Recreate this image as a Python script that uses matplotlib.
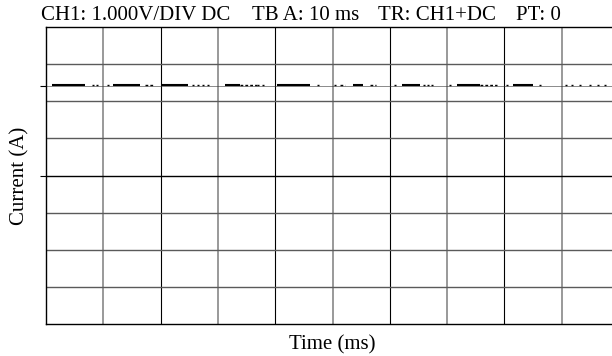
import matplotlib.pyplot as plt

plt.rcParams['font.family'] = ['Liberation Serif', 'DejaVu Serif']

# scope screen: 10 x 8 divisions, time in ms, current in divisions
x_divs = [0, 10, 20, 30, 40, 50, 60, 70, 80, 90, 100]
y_divs = [-4, -3, -2, -1, 0, 1, 2, 3, 4]
level = 2.42

# noisy trace: dense bursts (start, end) in ms
burst_start = [1.0, 11.7, 20.2, 31.2, 40.3, 53.6, 62.1, 71.7, 81.5]
burst_end = [6.8, 16.4, 24.8, 33.9, 46.1, 55.3, 65.3, 75.7, 85.0]
# lighter bits of noise
light_start = [17.3, 33.9, 51.3, 56.5, 75.7]
light_end = [18.7, 36.8, 52.2, 57.6, 78.7]
# isolated specks
specks = [8.2, 8.9, 10.8, 25.7, 26.5, 27.4, 28.3, 37.0, 37.9, 47.5,
          50.4, 60.9, 66.0, 66.7, 67.4, 70.5, 80.4, 86.2,
          90.7, 91.8, 93.2, 94.9, 96.3, 97.5]

fig = plt.figure(figsize=(6.12, 3.56), dpi=100)
ax = fig.add_axes([46/612, 32/356, 573/612, 297/356])
ax.set_xlim(0, 100)
ax.set_ylim(-4, 4)

for i, x in enumerate(x_divs[1:-1]):
    if i % 2 == 0:
        ax.axvline(x, color='#888888', lw=1.2, zorder=1)
    else:
        ax.axvline(x, color='black', lw=0.8, zorder=1)
for y in y_divs[1:-1]:
    if y == 0:
        ax.axhline(y, color='black', lw=1.0, zorder=1)
    else:
        ax.axhline(y, color='#5a5a5a', lw=1.0, zorder=1)

ax.plot([0, 100], [level, level], color='#333333', lw=0.4, zorder=2)
for s, e in zip(burst_start, burst_end):
    ax.plot([s, e], [level + 0.03, level + 0.03], color='black', lw=1.5,
            solid_capstyle='butt', zorder=3)
for s, e in zip(light_start, light_end):
    ax.plot([s, e], [level + 0.02, level + 0.02], color='black', lw=1.0,
            linestyle=(0, (2, 1.5)), zorder=3)
for t in specks:
    ax.plot([t - 0.2, t + 0.2], [level + 0.02, level + 0.02], color='black',
            lw=1.0, solid_capstyle='butt', zorder=3)

for sp in ['left', 'top', 'bottom', 'right']:
    ax.spines[sp].set_color('black')
    ax.spines[sp].set_linewidth(1.0)

ax.set_xticks([])
ax.set_yticks([0, level])
ax.set_yticklabels([])
ax.tick_params(axis='y', direction='out', length=4, width=0.8)

fig.text(20/612, 1 - 175.5/356, 'Current (A)', fontsize=15, rotation=90,
         ha='center', va='center')
fig.text(332/612, 1 - 349/356, 'Time (ms)', fontsize=15, ha='center',
         va='baseline')

title_y = 1 - 20/356
fig.text(41/612, title_y, 'CH1: 1.000V/DIV DC', fontsize=15, va='baseline')
fig.text(252/612, title_y, 'TB A: 10 ms', fontsize=15, va='baseline')
fig.text(378/612, title_y, 'TR: CH1+DC', fontsize=15, va='baseline')
fig.text(516/612, title_y, 'PT: 0', fontsize=15, va='baseline')

plt.savefig('out.png', dpi=100)
